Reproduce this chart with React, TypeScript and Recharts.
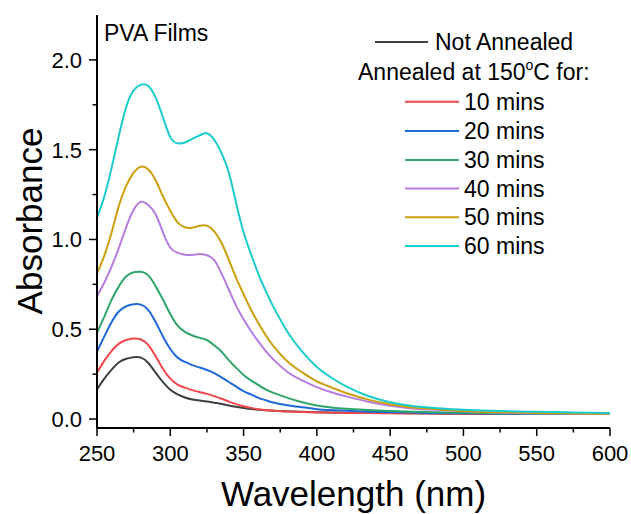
import React from "react";
import { LineChart, Line, XAxis, YAxis } from "recharts";

const wavelengths = [250, 255, 260, 265, 270, 275, 280, 285, 290, 295, 300, 305, 310, 315, 320, 325, 330, 335, 340, 345, 350, 355, 360, 365, 370, 380, 390, 400, 410, 420, 435, 450, 465, 480, 500, 525, 550, 575, 600];

const notAnnealed = [0.165, 0.225, 0.275, 0.316, 0.336, 0.344, 0.342, 0.312, 0.258, 0.205, 0.163, 0.137, 0.12, 0.109, 0.103, 0.098, 0.091, 0.084, 0.075, 0.068, 0.061, 0.056, 0.052, 0.049, 0.046, 0.043, 0.04, 0.038, 0.036, 0.035, 0.034, 0.033, 0.032, 0.031, 0.03, 0.029, 0.029, 0.028, 0.028];
const mins10 = [0.258, 0.325, 0.38, 0.42, 0.44, 0.448, 0.443, 0.412, 0.35, 0.28, 0.225, 0.192, 0.175, 0.161, 0.15, 0.14, 0.127, 0.113, 0.097, 0.083, 0.071, 0.062, 0.055, 0.05, 0.047, 0.042, 0.039, 0.037, 0.035, 0.034, 0.033, 0.032, 0.031, 0.031, 0.03, 0.029, 0.029, 0.028, 0.028];
const mins20 = [0.375, 0.46, 0.54, 0.6, 0.628, 0.639, 0.637, 0.607, 0.54, 0.46, 0.39, 0.342, 0.318, 0.3, 0.287, 0.273, 0.256, 0.232, 0.206, 0.18, 0.155, 0.137, 0.118, 0.105, 0.092, 0.077, 0.065, 0.055, 0.05, 0.046, 0.041, 0.038, 0.036, 0.034, 0.032, 0.03, 0.029, 0.028, 0.028];
const mins30 = [0.481, 0.57, 0.665, 0.74, 0.795, 0.817, 0.82, 0.8, 0.74, 0.665, 0.585, 0.52, 0.485, 0.465, 0.452, 0.44, 0.41, 0.375, 0.327, 0.285, 0.245, 0.215, 0.19, 0.165, 0.147, 0.118, 0.093, 0.075, 0.064, 0.057, 0.05, 0.045, 0.041, 0.038, 0.035, 0.032, 0.03, 0.029, 0.028];
const mins40 = [0.685, 0.76, 0.85, 0.955, 1.07, 1.165, 1.21, 1.192, 1.14, 1.04, 0.955, 0.925, 0.915, 0.914, 0.919, 0.912, 0.885, 0.81, 0.72, 0.63, 0.555, 0.49, 0.432, 0.38, 0.335, 0.262, 0.215, 0.178, 0.149, 0.126, 0.096, 0.074, 0.059, 0.051, 0.043, 0.036, 0.032, 0.03, 0.028];
const mins50 = [0.81, 0.91, 1.04, 1.19, 1.3, 1.372, 1.405, 1.39, 1.33, 1.24, 1.16, 1.095, 1.068, 1.065, 1.076, 1.077, 1.045, 0.98, 0.885, 0.785, 0.695, 0.61, 0.535, 0.468, 0.41, 0.32, 0.26, 0.21, 0.176, 0.145, 0.108, 0.082, 0.064, 0.056, 0.045, 0.038, 0.034, 0.031, 0.029];
const mins60 = [1.12, 1.24, 1.4, 1.58, 1.74, 1.83, 1.862, 1.855, 1.79, 1.68, 1.57, 1.535, 1.54, 1.56, 1.58, 1.592, 1.555, 1.48, 1.37, 1.2, 1.04, 0.92, 0.81, 0.715, 0.63, 0.485, 0.375, 0.29, 0.23, 0.182, 0.128, 0.093, 0.072, 0.062, 0.052, 0.044, 0.04, 0.037, 0.033];

const seriesKeys = ["na", "m10", "m20", "m30", "m40", "m50", "m60"];
const seriesNames = ["Not Annealed", "10 mins", "20 mins", "30 mins", "40 mins", "50 mins", "60 mins"];
const seriesColors = ["#404040", "#f0474c", "#1f6ad8", "#2ea56b", "#b67de0", "#cc9f0c", "#1ccbcc"];
const seriesValues = [notAnnealed, mins10, mins20, mins30, mins40, mins50, mins60];

const xTicks = [250, 275, 300, 325, 350, 375, 400, 425, 450, 475, 500, 525, 550, 575, 600];
const yTicks = [0, 0.25, 0.5, 0.75, 1.0, 1.25, 1.5, 1.75, 2.0];

const data = wavelengths.map((wl, i) => {
  const row: Record<string, number> = { wl };
  seriesKeys.forEach((k, j) => {
    row[k] = seriesValues[j][i];
  });
  return row;
});

const FONT = "'Liberation Sans', Arial, sans-serif";

const XTick = (props: any) => {
  const { x, y, payload } = props;
  const v = payload.value;
  const major = v % 50 === 0;
  return (
    <g>
      <line x1={x} x2={x} y1={y} y2={y + (major ? 8 : 4.5)} stroke="#000" strokeWidth={1.5} />
      {major && (
        <text x={x} y={y + 33} textAnchor="middle" fontSize={22} fontFamily={FONT} fill="#000">
          {v}
        </text>
      )}
    </g>
  );
};

const YTick = (props: any) => {
  const { x, y, payload } = props;
  const v = payload.value;
  const major = Math.abs(v * 2 - Math.round(v * 2)) < 1e-6;
  return (
    <g>
      <line x1={x} x2={x - (major ? 8 : 4.5)} y1={y} y2={y} stroke="#000" strokeWidth={1.5} />
      {major && (
        <text x={x - 15} y={y + 8} textAnchor="end" fontSize={22} fontFamily={FONT} fill="#000">
          {v.toFixed(1)}
        </text>
      )}
    </g>
  );
};

const legendRowsY = [101.7, 131, 160, 188.5, 217.3, 246];

export default function App() {
  return (
    <div style={{ position: "absolute", left: 0, top: 0, width: 631, height: 514, background: "#fff" }}>
      <LineChart width={631} height={514} data={data} margin={{ top: 15, right: 21, bottom: 46, left: 37 }}>
        <XAxis
          dataKey="wl"
          type="number"
          domain={[250, 600]}
          ticks={xTicks}
          interval={0}
          height={40}
          tickLine={false}
          tickSize={0}
          tickMargin={0}
          tick={<XTick />}
          axisLine={{ stroke: "#000", strokeWidth: 2 }}
          allowDataOverflow
        />
        <XAxis
          xAxisId="top"
          orientation="top"
          type="number"
          domain={[250, 600]}
          height={0}
          tick={false}
          tickLine={false}
          axisLine={{ stroke: "#000", strokeWidth: 2 }}
        />
        <YAxis
          type="number"
          domain={[-0.05, 2.25]}
          ticks={yTicks}
          interval={0}
          width={60}
          tickLine={false}
          tickSize={0}
          tickMargin={0}
          tick={<YTick />}
          axisLine={{ stroke: "#000", strokeWidth: 2 }}
          allowDataOverflow
        />
        <YAxis
          yAxisId="right"
          orientation="right"
          type="number"
          domain={[-0.05, 2.25]}
          width={0}
          tick={false}
          tickLine={false}
          axisLine={{ stroke: "#000", strokeWidth: 2 }}
        />
        {seriesKeys.map((k, j) => (
          <Line
            key={k}
            dataKey={k}
            name={seriesNames[j]}
            type="natural"
            stroke={seriesColors[j]}
            strokeWidth={2}
            dot={false}
            activeDot={false}
            isAnimationActive={false}
          />
        ))}
      </LineChart>
      <svg
        width={631}
        height={514}
        style={{ position: "absolute", left: 0, top: 0, pointerEvents: "none" }}
        fontFamily={FONT}
      >
        <text x={104} y={41} fontSize={23} fill="#000">PVA Films</text>
        <line x1={375} x2={428} y1={42} y2={42} stroke={seriesColors[0]} strokeWidth={2} />
        <text x={435} y={50} fontSize={23} fill="#000">{seriesNames[0]}</text>
        <text x={358} y={80} fontSize={23} fill="#000">
          Annealed at 150
          <tspan fontSize={14} dy={-10}>o</tspan>
          <tspan dy={10}>C for:</tspan>
        </text>
        {legendRowsY.map((ly, i) => (
          <g key={i}>
            <line x1={405} x2={459} y1={ly} y2={ly} stroke={seriesColors[i + 1]} strokeWidth={2} />
            <text x={464} y={ly + 8} fontSize={23} fill="#000">{seriesNames[i + 1]}</text>
          </g>
        ))}
        <text x={353.5} y={506} fontSize={35} textAnchor="middle" fill="#000">Wavelength (nm)</text>
        <text
          x={42}
          y={221}
          fontSize={35}
          textAnchor="middle"
          fill="#000"
          transform="rotate(-90 42 221)"
        >
          Absorbance
        </text>
      </svg>
    </div>
  );
}
